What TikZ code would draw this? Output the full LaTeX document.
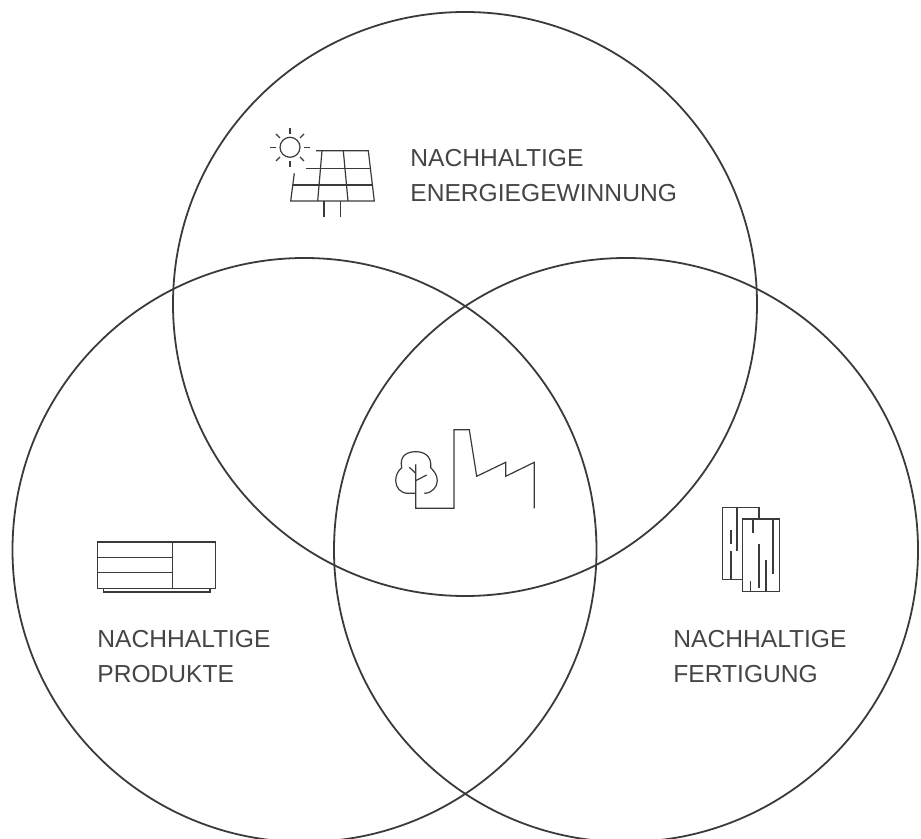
\documentclass[tikz,border=0pt]{standalone}
\usepackage{xcolor}
\usepackage{fontspec}
\setmainfont{Liberation Sans}
\definecolor{ink}{HTML}{3A3A3A}
\definecolor{lblink}{HTML}{454545}
\tikzset{
  ring/.style={draw=ink, line width=0.9pt},
  icon/.style={draw=ink, line width=0.6pt},
  iconbold/.style={draw=ink, line width=1pt},
  lbl/.style={text=lblink, font=\fontsize{12.3pt}{17.5pt}\selectfont, inner sep=0pt, align=left, anchor=base west}
}
\begin{document}
\begin{tikzpicture}[x=0.5pt, y=-0.5pt]
  \useasboundingbox (0,0) rectangle (921,839);
  \clip (0,0) rectangle (921,839);
  \coordinate (T) at (465,304);
  \coordinate (L) at (304.5,550);
  \coordinate (R) at (626,550);
  \def\Rad{146pt}

  \draw[ring] (T) circle (\Rad);
  \draw[ring] (L) circle (\Rad);
  \draw[ring] (R) circle (\Rad);

  % sun
  \draw[icon] (290,147.3) circle (5pt);
  \draw[icon] (290,128.3)--(290,134) (290,161)--(290,166.7);
  \draw[icon] (270,147.3)--(276,147.3) (304,147.3)--(310,147.3);
  \draw[icon] (276,134)--(280,138) (304,134)--(300,138);
  \draw[icon] (276,161)--(280,157) (304,161)--(300,157);

  % panel
  \draw[icon] (316,150.7)--(368.3,150.7)--(374.3,201)--(290.7,201)--(294.3,173.3);
  \draw[icon] (305.7,168.7)--(370.3,168.7);
  \draw[icon] (293.3,185)--(372,185);
  \draw[icon] (322,150.7)--(317.7,201);
  \draw[icon] (343.3,150.7)--(348,201);
  \draw[icon] (324,201)--(324,217.3);
  \draw[icon] (340.7,201)--(340.7,217.3);

  % factory
  \draw[icon] (415.7,464.3)--(415.7,508.3)--(454,508.3)--(454,429.7)--(469.3,429.7)--(476.7,476.3)--(505.7,462.3)--(505.7,476.3)--(534.3,462.3)--(534.3,508.3);
  \draw[icon] (415.7,473.3)--(409.3,467.3);
  \draw[icon] (415.7,480.7)--(426.7,475);
  \draw[icon] (415.7,493.3)--(408,493.3) .. controls (400,493.3) and (395.7,487) .. (395.7,480.7) .. controls (395.7,475) and (398,471) .. (401.7,467.7) .. controls (399,455) and (408,451.7) .. (415.7,451.7) .. controls (423,451.7) and (432,455) .. (430.7,467.7) .. controls (434,471) and (437.3,475) .. (437.3,480.7) .. controls (437.3,487) and (432,493.3) .. (424.3,493.3);

  % product
  \draw[icon] (97.7,542) rectangle (215.7,588.3);
  \draw[icon] (172.7,542)--(172.7,588.3);
  \draw[icon] (97.7,557.3)--(172.7,557.3);
  \draw[icon] (97.7,572.7)--(172.7,572.7);
  \draw[icon] (103.3,588.3)--(103.3,592)--(210,592)--(210,588.3);

  % wood
  \draw[icon] (742.7,579.7)--(722.3,579.7)--(722.3,507.7)--(759,507.7)--(759,519);
  \draw[icon] (742.7,519) rectangle (779.7,591.7);
  \draw[icon] (737,507.7)--(737,551);
  \draw[iconbold] (731,530)--(731,544);
  \draw[icon] (731,551)--(731,579.7);
  \draw[icon] (753,519)--(753,532.7);
  \draw[icon] (773,519)--(773,574.3);
  \draw[iconbold] (759,544)--(759,587.7);
  \draw[icon] (766,560)--(766,591.7);
  \draw[icon] (750.7,581)--(750.7,591.7);

  \node[lbl] (energie) at (410,202) {NACHHALTIGE\\ENERGIEGEWINNUNG};
  \node[lbl] (produkte) at (97,682) {NACHHALTIGE\\PRODUKTE};
  \node[lbl] (fertigung) at (673,682) {NACHHALTIGE\\FERTIGUNG};
\end{tikzpicture}
\end{document}
